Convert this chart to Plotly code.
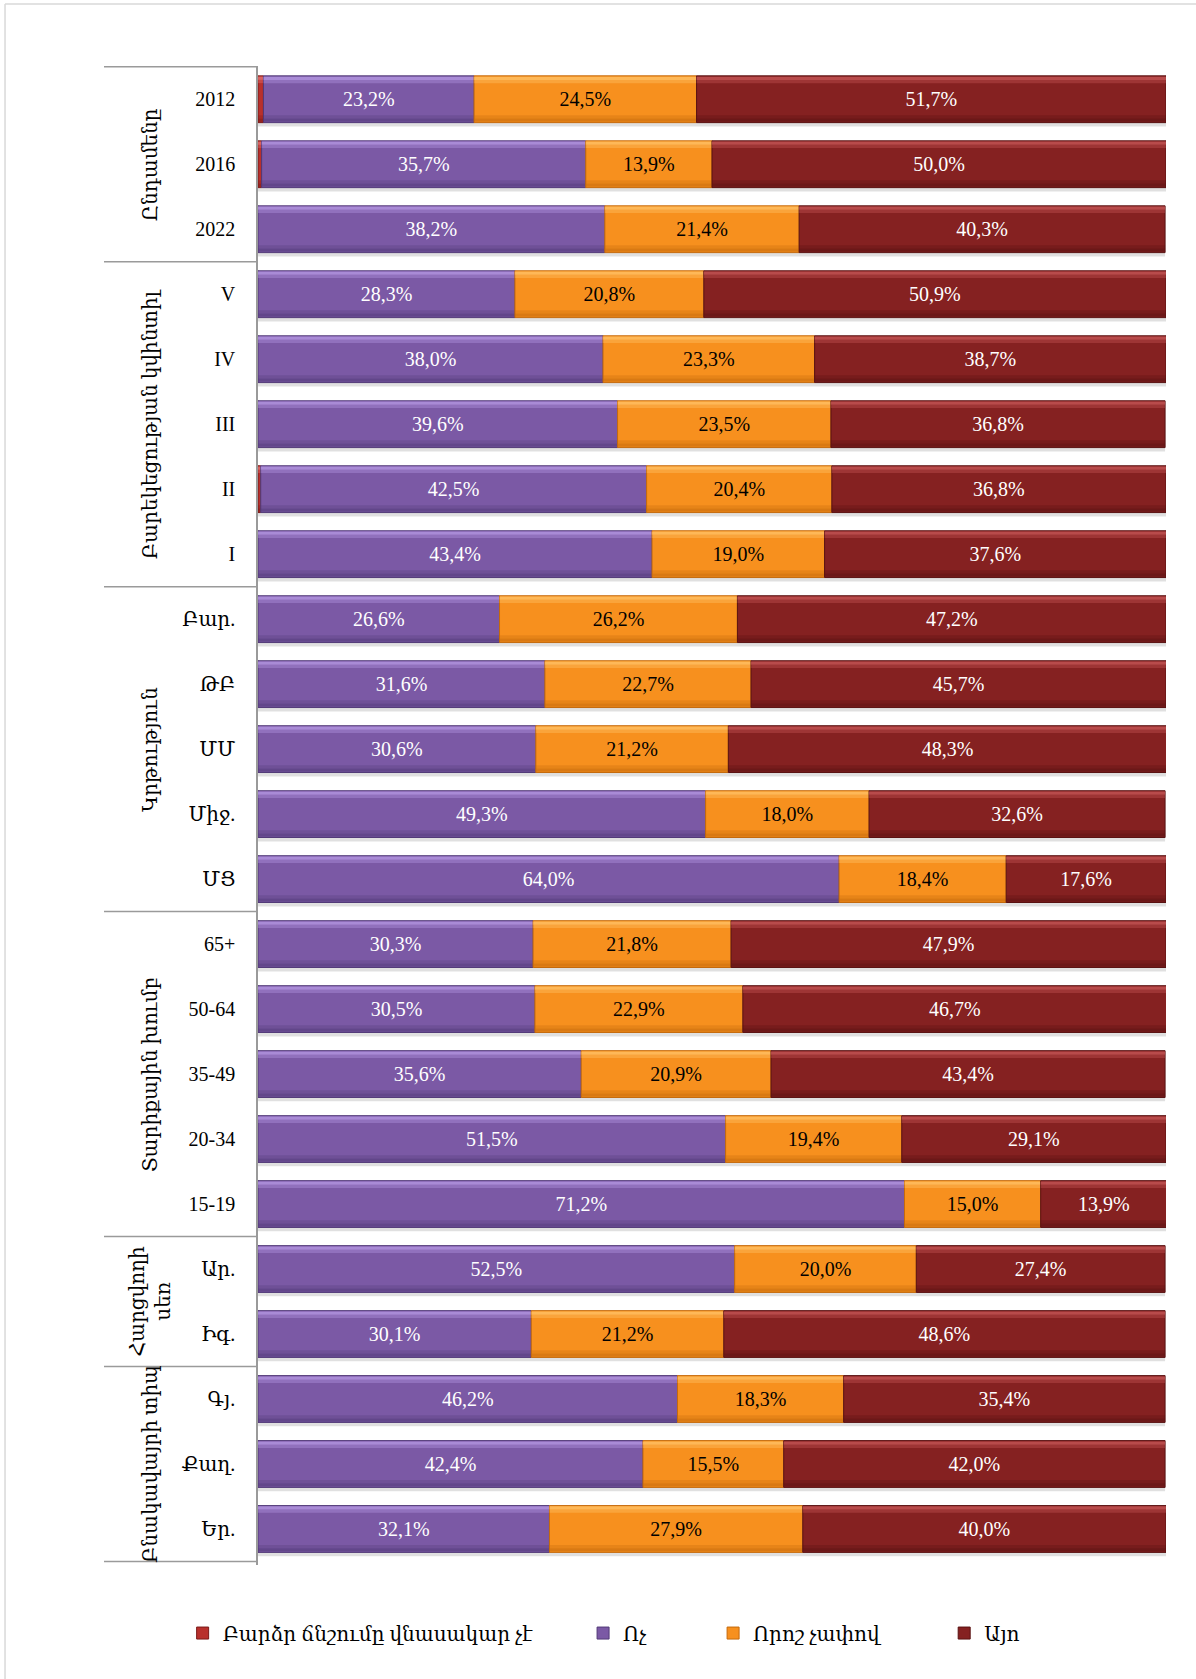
import plotly.graph_objects as go

# Categories, top to bottom
categories = ["2012", "2016", "2022",
              "V", "IV", "III", "II", "I",
              "Բար.", "ԹԲ", "ՄՄ", "Միջ.", "ՄՑ",
              "65+", "50-64", "35-49", "20-34", "15-19",
              "Ար.", "Իգ.",
              "Գյ.", "Քաղ.", "Եր."]

# Group headers: (label, first index, last index)
groups = [("Ընդամենը", 0, 2),
          ("Բարեկեցության կվինտիլ", 3, 7),
          ("Կրթություն", 8, 12),
          ("Տարիքային խումբ", 13, 17),
          ("Հարցվողի<br>սեռ", 18, 19),
          ("Բնակավայրի տիպ", 20, 22)]

not_harmful = [0.6, 0.4, 0, 0, 0, 0, 0.3, 0,
               0, 0, 0, 0, 0,
               0, 0, 0, 0, 0,
               0, 0,
               0, 0, 0]
no = [23.2, 35.7, 38.2, 28.3, 38.0, 39.6, 42.5, 43.4,
      26.6, 31.6, 30.6, 49.3, 64.0,
      30.3, 30.5, 35.6, 51.5, 71.2,
      52.5, 30.1,
      46.2, 42.4, 32.1]
somewhat = [24.5, 13.9, 21.4, 20.8, 23.3, 23.5, 20.4, 19.0,
            26.2, 22.7, 21.2, 18.0, 18.4,
            21.8, 22.9, 20.9, 19.4, 15.0,
            20.0, 21.2,
            18.3, 15.5, 27.9]
yes = [51.7, 50.0, 40.3, 50.9, 38.7, 36.8, 36.8, 37.6,
       47.2, 45.7, 48.3, 32.6, 17.6,
       47.9, 46.7, 43.4, 29.1, 13.9,
       27.4, 48.6,
       35.4, 42.0, 40.0]

series = [
    # name, values, main, light, dark, label colour
    ("Բարձր ճնշումը վնասակար չէ", not_harmful, "#B8302C", "#E07070", "#7A1A18", "white"),
    ("Ոչ", no, "#7B59A5", "#B597E2", "#523A78", "white"),
    ("Որոշ չափով", somewhat, "#F7901E", "#FFC266", "#C56A0C", "black"),
    ("Այո", yes, "#852121", "#C45656", "#5A1212", "white"),
]

FONT = "Liberation Serif, DejaVu Serif, serif"
BAR_W = 0.72
EDGE_W = 0.05

fig = go.Figure()

# running left edge of each stacked segment
base = [0.0] * len(categories)
totals = [sum(v) for v in zip(not_harmful, no, somewhat, yes)]

# soft drop shadow under each stacked bar
fig.add_trace(go.Bar(
    y=categories, x=totals, base=[0] * len(categories), orientation="h",
    width=0.07, offset=BAR_W / 2 - 0.01,
    marker=dict(color="rgba(0,0,0,0.12)", line=dict(width=0)),
    showlegend=False, hoverinfo="skip"))

legend_ids = ["legend", "legend2", "legend3", "legend4"]
for k, (name, vals, main, light, dark, lab) in enumerate(series):
    texts = [("%.1f" % v).replace(".", ",") + "%" if v >= 5 else "" for v in vals]
    fig.add_trace(go.Bar(
        y=categories, x=vals, base=list(base), orientation="h", name=name,
        width=BAR_W, offset=-BAR_W / 2,
        marker=dict(color=main, line=dict(color=dark, width=1)),
        text=texts, textposition="inside", insidetextanchor="middle",
        textangle=0, constraintext="none",
        textfont=dict(family=FONT, size=20, color=lab),
        legend=legend_ids[k], hoverinfo="skip"))
    # bevel highlight on the upper edge, two soft steps
    for j, op in enumerate([0.8, 0.4]):
        fig.add_trace(go.Bar(
            y=categories, x=vals, base=list(base), orientation="h",
            width=EDGE_W, offset=-BAR_W / 2 + 0.012 + j * EDGE_W,
            marker=dict(color=light, opacity=op, line=dict(width=0)),
            showlegend=False, hoverinfo="skip"))
    # bevel shade on the lower edge, two soft steps
    for j, op in enumerate([0.6, 0.3]):
        fig.add_trace(go.Bar(
            y=categories, x=vals, base=list(base), orientation="h",
            width=EDGE_W, offset=BAR_W / 2 - 0.012 - (j + 1) * EDGE_W,
            marker=dict(color=dark, opacity=op, line=dict(width=0)),
            showlegend=False, hoverinfo="skip"))
    base = [b + v for b, v in zip(base, vals)]

# group separators on the category axis
shapes = []
bounds = [-0.5] + [g[2] + 0.5 for g in groups]
for b in bounds:
    shapes.append(dict(type="line", xref="paper", yref="y", x0=-0.1696, x1=0,
                       y0=b, y1=b, line=dict(color="#9A9A9A", width=1.5)))
# page frame
shapes.append(dict(type="line", xref="paper", yref="paper", x0=-0.2786, x1=1.05,
                   y0=1.0414, y1=1.0414, line=dict(color="#D9D9D9", width=1.5)))
shapes.append(dict(type="line", xref="paper", yref="paper", x0=-0.2786, x1=-0.2786,
                   y0=1.0414, y1=-0.09, line=dict(color="#D9D9D9", width=1.5)))

annotations = []
for label, i0, i1 in groups:
    annotations.append(dict(
        text=label, xref="paper", yref="y", x=-0.119, y=(i0 + i1) / 2,
        textangle=-90, showarrow=False, xanchor="center", yanchor="middle",
        font=dict(family=FONT, size=20, color="black")))

legend_x = [-0.083, 0.358, 0.5012, 0.7557]
legend_common = dict(orientation="h", yanchor="middle", y=-0.0454, xanchor="left",
                     bgcolor="rgba(0,0,0,0)", font=dict(family=FONT, size=20, color="black"),
                     itemwidth=30, tracegroupgap=0)

layout_legends = {}
for lid, lx in zip(legend_ids, legend_x):
    layout_legends[lid] = dict(legend_common, x=lx)

fig.update_layout(
    width=1196, height=1679,
    margin=dict(l=258, r=30, t=66, b=114),
    paper_bgcolor="white", plot_bgcolor="white",
    barmode="overlay",
    showlegend=True,
    font=dict(family=FONT, size=20, color="black"),
    xaxis=dict(range=[0, 100], showticklabels=False, showgrid=False,
               zeroline=False, showline=False, fixedrange=True),
    yaxis=dict(type="category", categoryorder="array", categoryarray=categories,
               autorange="reversed", showgrid=False, zeroline=False,
               showline=True, linecolor="#9A9A9A", linewidth=1.5,
               ticks="", ticklabelstandoff=17,
               tickfont=dict(family=FONT, size=20, color="black")),
    shapes=shapes,
    annotations=annotations,
    **layout_legends,
)

fig.write_html("out.html")
